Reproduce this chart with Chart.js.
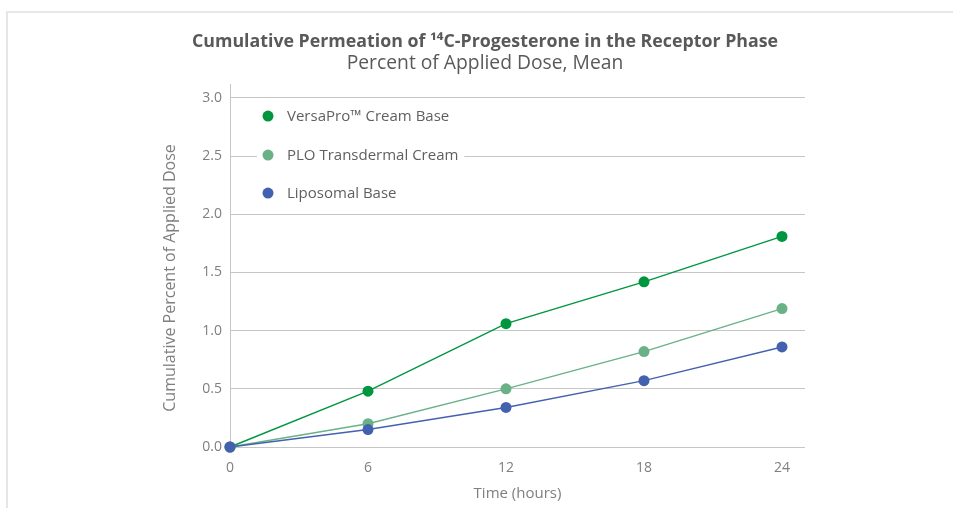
<!DOCTYPE html>
<html>
<head>
<meta charset="utf-8">
<script src="https://cdn.jsdelivr.net/npm/chart.js@4.4.1/dist/chart.umd.min.js"></script>
<style>
  html, body { margin: 0; padding: 0; background: #ffffff; }
  #wrap { position: relative; width: 953px; height: 508px; overflow: hidden; }
  #frame { position: absolute; left: 6px; top: 11px; right: -10px; bottom: -10px;
           border-left: 2px solid #e6e6e6; border-top: 2px solid #e8e8e8; }
  canvas { position: absolute; left: 0; top: 0; }
</style>
</head>
<body>
<div id="wrap">
  <div id="frame"></div>
  <canvas id="c" width="953" height="508"></canvas>
</div>
<script>
// ---- data ----
const hours = [0, 6, 12, 18, 24];
const versaPro = [0.0, 0.48, 1.06, 1.42, 1.81];
const ploCream = [0.0, 0.20, 0.50, 0.82, 1.19];
const liposomal = [0.0, 0.15, 0.34, 0.57, 0.86];
const seriesNames = ['VersaPro\u2122 Cream Base', 'PLO Transdermal Cream', 'Liposomal Base'];
const xTicks = [0, 6, 12, 18, 24];
const yTicks = [0.0, 0.5, 1.0, 1.5, 2.0, 2.5, 3.0];
const chartTitle = 'Cumulative Permeation of \u00b9\u2074C-Progesterone in the Receptor Phase';
const chartSubtitle = 'Percent of Applied Dose, Mean';
const xTitle = 'Time (hours)';
const yTitle = 'Cumulative Percent of Applied Dose';

const colors = ['#00963F', '#6AB187', '#4361AE'];
const FONT = "'Open Sans', 'Noto Sans', sans-serif";

function pts(vals) { return hours.map((h, i) => ({ x: h, y: vals[i] })); }

const insideLegend = {
  id: 'insideLegend',
  beforeDatasetsDraw(chart) {
    const { ctx, chartArea } = chart;
    const cx = chartArea.left + 38;
    const rows = [chartArea.top + 32, chartArea.top + 71, chartArea.top + 109];
    ctx.save();
    ctx.font = '15px ' + FONT;
    chart.data.datasets.forEach((ds, i) => {
      const y = rows[i];
      const tw = ctx.measureText(ds.label).width;
      ctx.fillStyle = '#ffffff';
      ctx.fillRect(cx - 11, y - 10, (19 + tw + 6) + 11, 20);
      ctx.beginPath();
      ctx.arc(cx, y, 5.5, 0, Math.PI * 2);
      ctx.fillStyle = ds.borderColor;
      ctx.fill();
      ctx.fillStyle = '#5f5f5f';
      ctx.textBaseline = 'middle';
      ctx.textAlign = 'left';
      ctx.fillText(ds.label, cx + 19, y + 1);
    });
    ctx.restore();
  }
};

// y-axis title, drawn slightly below the axis centre as in the original
const yAxisTitle = {
  id: 'yAxisTitle',
  afterDraw(chart) {
    const { ctx, chartArea } = chart;
    ctx.save();
    ctx.translate(chartArea.left - 60, chartArea.bottom - 169);
    ctx.rotate(-Math.PI / 2);
    ctx.font = '16px ' + FONT;
    ctx.fillStyle = '#7f7f7f';
    ctx.textAlign = 'center';
    ctx.textBaseline = 'middle';
    ctx.fillText(yTitle, 0, 0);
    ctx.restore();
  }
};

const datasets = [versaPro, ploCream, liposomal].map((vals, i) => ({
  label: seriesNames[i],
  data: pts(vals),
  borderColor: colors[i],
  backgroundColor: colors[i],
  pointBackgroundColor: colors[i],
  pointBorderColor: colors[i],
  pointBorderWidth: 0,
  pointRadius: 5.5,
  borderWidth: 1.4,
  tension: 0,
  clip: false,
  order: 2 - i
}));

new Chart(document.getElementById('c'), {
  type: 'line',
  data: { datasets },
  plugins: [insideLegend, yAxisTitle],
  options: {
    responsive: false,
    animation: false,
    devicePixelRatio: 1,
    layout: { padding: { left: 165, right: 148, top: 0, bottom: 0 } },
    plugins: {
      legend: { display: false },
      tooltip: { enabled: false },
      title: {
        display: true,
        text: chartTitle,
        color: '#595959',
        font: { family: FONT, size: 17.8, weight: 'bold', lineHeight: 1.2 },
        padding: { top: 31, bottom: 0 }
      },
      subtitle: {
        display: true,
        text: chartSubtitle,
        color: '#595959',
        font: { family: FONT, size: 19.3, weight: 'normal', lineHeight: 1.2 },
        padding: { top: 0, bottom: 8.5 }
      }
    },
    scales: {
      x: {
        type: 'linear',
        min: 0,
        max: 25,
        afterBuildTicks: (s) => { s.ticks = xTicks.map(v => ({ value: v })); },
        afterFit: (s) => { s.height = 61; },
        grid: { display: false },
        border: { display: false },
        ticks: { color: '#7f7f7f', font: { family: FONT, size: 14 }, padding: 5, maxRotation: 0 },
        title: { display: true, text: xTitle, color: '#7f7f7f',
                 font: { family: FONT, size: 15, lineHeight: 1.2 }, padding: { top: 0, bottom: 5 } }
      },
      y: {
        type: 'linear',
        min: 0,
        max: 3.12,
        afterBuildTicks: (s) => { s.ticks = yTicks.map(v => ({ value: v })); },
        afterFit: (s) => { s.width = 65; },
        grid: { color: '#c6c6c6', lineWidth: 1, drawTicks: false },
        border: { display: true, color: '#c6c6c6', width: 1 },
        ticks: { color: '#7f7f7f', font: { family: FONT, size: 14 }, padding: 8,
                 callback: (v) => Number(v).toFixed(1) },
        title: { display: false, text: yTitle }
      }
    }
  }
});
</script>
</body>
</html>
